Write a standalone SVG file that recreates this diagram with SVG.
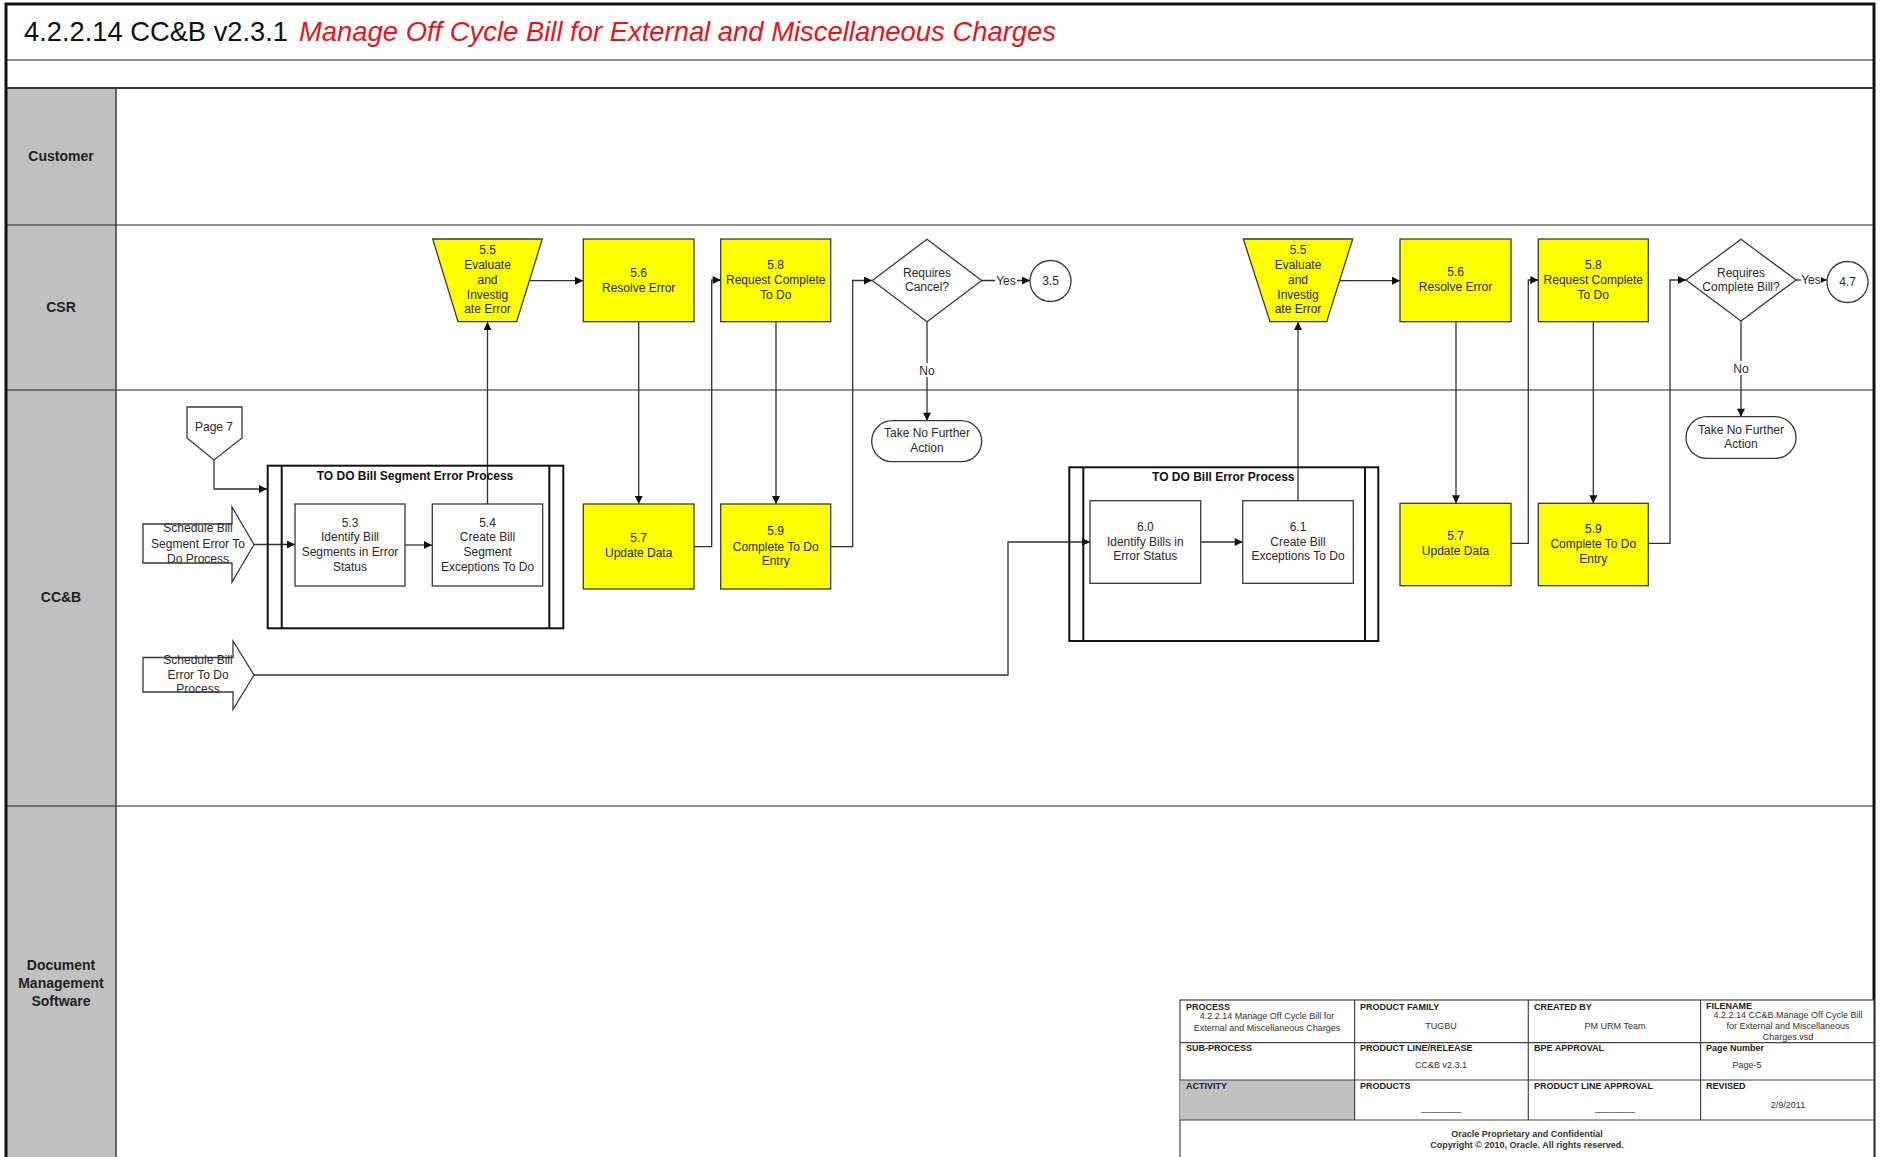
<svg xmlns="http://www.w3.org/2000/svg" width="1881" height="1157" viewBox="0 0 1881 1157">
<style>
text{font-family:"Liberation Sans",Arial,sans-serif;fill:#2a2a2a}
.t{font-size:12px;text-anchor:middle}
.tb{font-size:12px;font-weight:bold;text-anchor:middle;fill:#111}
.lane{font-size:14px;font-weight:bold;text-anchor:middle;fill:#222}
.y{fill:#ffff00;stroke:#3a3a3a;stroke-width:1.3}
.w{fill:#fff;stroke:#3a3a3a;stroke-width:1.3}
.pb{fill:none;stroke:#111;stroke-width:2}
.c{fill:none;stroke:#333;stroke-width:1.3}
.ca{fill:none;stroke:#333;stroke-width:1.3;marker-end:url(#ah)}
.g{stroke:#222;stroke-width:1.2}
.tl{font-size:9px;fill:#333}
.th{font-size:9px;font-weight:bold;fill:#222}
.tc{font-size:9px;fill:#333;text-anchor:middle}
</style>
<defs>
<marker id="ah" viewBox="0 0 10 10" refX="10" refY="5" markerUnits="userSpaceOnUse" markerWidth="9" markerHeight="8" orient="auto">
<path d="M0,0 L10,5 L0,10 z" fill="#111"/>
</marker>
</defs>
<rect x="0" y="0" width="1881" height="1157" fill="#fff"/>

<g id="frame">
<rect x="6" y="88" width="110" height="1075" fill="#c0c0c0"/>
<line x1="6" y1="60" x2="1874" y2="60" stroke="#222" stroke-width="1.2"/>
<line x1="6" y1="88" x2="1874" y2="88" stroke="#333" stroke-width="2"/>
<line x1="6" y1="225" x2="1874" y2="225" class="g"/>
<line x1="6" y1="390" x2="1874" y2="390" class="g"/>
<line x1="6" y1="806" x2="1874" y2="806" class="g"/>
<line x1="116" y1="88" x2="116" y2="1157" stroke="#444" stroke-width="1.6"/>
<rect x="6" y="4" width="1868" height="1170" fill="none" stroke="#111" stroke-width="3"/>
<text x="24" y="41" style="font-size:27.5px;fill:#111" textLength="264" lengthAdjust="spacingAndGlyphs">4.2.2.14 CC&amp;B v2.3.1</text>
<text x="299" y="41" style="font-size:27.5px;font-style:italic;fill:#e8141c" textLength="757" lengthAdjust="spacingAndGlyphs">Manage Off Cycle Bill for External and Miscellaneous Charges</text>
<text class="lane" x="61" y="161">Customer</text>
<text class="lane" x="61" y="312">CSR</text>
<text class="lane" x="61" y="602">CC&amp;B</text>
<text class="lane" x="61" y="970">Document</text>
<text class="lane" x="61" y="988">Management</text>
<text class="lane" x="61" y="1006">Software</text>
</g>

<g id="connectors">
<path class="ca" d="M214,460 V489 H267"/>
<path class="ca" d="M254,544.5 H295"/>
<path class="ca" d="M405,545 H432"/>
<path class="ca" d="M487.5,504 V322"/>
<path class="ca" d="M530,280.7 H583"/>
<path class="ca" d="M638.7,321.7 V504"/>
<path class="ca" d="M694,546.7 H711.7 V280 H720.7"/>
<path class="ca" d="M776,321.7 V504"/>
<path class="ca" d="M830.7,546.7 H852.7 V280.5 H872"/>
<path class="ca" d="M981.7,280.5 H1030"/>
<path class="ca" d="M927,321.7 V420.7"/>
<path class="ca" d="M254,675 H1008 V542 H1090"/>
<path class="ca" d="M1200.7,542 H1242.7"/>
<path class="ca" d="M1298,500.7 V322"/>
<path class="ca" d="M1340,280.7 H1400"/>
<path class="ca" d="M1456,321.7 V503.3"/>
<path class="ca" d="M1511,543.3 H1528.3 V280 H1538.3"/>
<path class="ca" d="M1593.3,321.7 V503.3"/>
<path class="ca" d="M1648.3,543.3 H1670 V280 H1686"/>
<path class="ca" d="M1796,280 H1826.7"/>
<path class="ca" d="M1741,321 V416.7"/>
<rect x="995" y="273" width="22" height="14" fill="#fff"/>
<text class="t" x="1006" y="284.5">Yes</text>
<rect x="917" y="363" width="20" height="14" fill="#fff"/>
<text class="t" x="927" y="374.5">No</text>
<rect x="1801" y="273" width="20" height="12" fill="#fff"/>
<text class="t" x="1811" y="284">Yes</text>
<rect x="1731" y="361" width="20" height="14" fill="#fff"/>
<text class="t" x="1741" y="372.5">No</text>
</g>

<g id="page7">
<path class="w" d="M187,407 H242 V438 L214,460 L187,438 Z"/>
<text class="t" x="214" y="431">Page 7</text>
</g>

<g id="sched1">
<path class="w" d="M143,524 H232 V507 L254,544.5 L232,582 V563 H143 Z"/>
<text class="t" x="198" y="532">Schedule Bill</text>
<text class="t" x="198" y="547.5">Segment Error To</text>
<text class="t" x="198" y="562.5">Do Process</text>
</g>

<g id="sched2">
<path class="w" d="M143,657.5 H233 V641 L254,675 L233,709.5 V692 H143 Z"/>
<text class="t" x="198" y="664">Schedule Bill</text>
<text class="t" x="198" y="679">Error To Do</text>
<text class="t" x="198" y="693">Process</text>
</g>

<g id="proc1">
<rect class="pb" x="267.7" y="465.7" width="295.6" height="162.6"/>
<line class="pb" x1="281.7" y1="465.7" x2="281.7" y2="628.3"/>
<line class="pb" x1="549.3" y1="465.7" x2="549.3" y2="628.3"/>
<text class="tb" x="415" y="479.5">TO DO Bill Segment Error Process</text>
</g>

<g id="n53">
<rect class="w" x="295" y="504" width="110" height="82"/>
<text class="t" x="350" y="526.5">5.3</text>
<text class="t" x="350" y="541">Identify Bill</text>
<text class="t" x="350" y="556">Segments in Error</text>
<text class="t" x="350" y="570.5">Status</text>
</g>

<g id="n54">
<rect class="w" x="432.3" y="504" width="110.4" height="82"/>
<text class="t" x="487.5" y="526.5">5.4</text>
<text class="t" x="487.5" y="541">Create Bill</text>
<text class="t" x="487.5" y="556">Segment</text>
<text class="t" x="487.5" y="570.5">Exceptions To Do</text>
</g>

<g id="n55a">
<polygon class="y" points="432.7,239 542.3,239 516.7,321.7 458,321.7"/>
<text class="t" x="487.5" y="254">5.5</text>
<text class="t" x="487.5" y="268.5">Evaluate</text>
<text class="t" x="487.5" y="283.5">and</text>
<text class="t" x="487.5" y="298.5">Investig</text>
<text class="t" x="487.5" y="313">ate Error</text>
</g>

<g id="n56a">
<rect class="y" x="583.3" y="239" width="110.7" height="82.7"/>
<text class="t" x="638.7" y="277">5.6</text>
<text class="t" x="638.7" y="292">Resolve Error</text>
</g>

<g id="n58a">
<rect class="y" x="720.7" y="239" width="110" height="82.7"/>
<text class="t" x="775.7" y="268.5">5.8</text>
<text class="t" x="775.7" y="284">Request Complete</text>
<text class="t" x="775.7" y="298.5">To Do</text>
</g>

<g id="n57a">
<rect class="y" x="583.3" y="504" width="110.7" height="85"/>
<text class="t" x="638.7" y="542">5.7</text>
<text class="t" x="638.7" y="557">Update Data</text>
</g>

<g id="n59a">
<rect class="y" x="720.7" y="504" width="110" height="85"/>
<text class="t" x="775.7" y="535">5.9</text>
<text class="t" x="775.7" y="550.5">Complete To Do</text>
<text class="t" x="775.7" y="565">Entry</text>
</g>

<g id="d1">
<polygon class="w" points="872.3,280.5 927,239.3 981.7,280.5 927,321.7"/>
<text class="t" x="927" y="276.5">Requires</text>
<text class="t" x="927" y="291">Cancel?</text>
</g>

<g id="c35">
<circle class="w" cx="1050.5" cy="281" r="20.5"/>
<text class="t" x="1050.5" y="285">3.5</text>
</g>

<g id="term1">
<rect class="w" x="871.7" y="420.7" width="110" height="41" rx="20.5"/>
<text class="t" x="927" y="436.5">Take No Further</text>
<text class="t" x="927" y="452">Action</text>
</g>

<g id="proc2">
<rect class="pb" x="1069.3" y="467.3" width="309" height="173.7"/>
<line class="pb" x1="1083.3" y1="467.3" x2="1083.3" y2="641"/>
<line class="pb" x1="1365" y1="467.3" x2="1365" y2="641"/>
<text class="tb" x="1223.3" y="481">TO DO Bill Error Process</text>
</g>

<g id="n60">
<rect class="w" x="1090" y="500.7" width="110.7" height="82.6"/>
<text class="t" x="1145.3" y="530.5">6.0</text>
<text class="t" x="1145.3" y="545.5">Identify Bills  in</text>
<text class="t" x="1145.3" y="560">Error Status</text>
</g>

<g id="n61">
<rect class="w" x="1242.7" y="500.7" width="110.6" height="82.6"/>
<text class="t" x="1298" y="530.5">6.1</text>
<text class="t" x="1298" y="545.5">Create Bill</text>
<text class="t" x="1298" y="560">Exceptions To Do</text>
</g>

<g id="n55b">
<polygon class="y" points="1243.3,239 1352.7,239 1326.7,321.7 1270,321.7"/>
<text class="t" x="1298" y="254">5.5</text>
<text class="t" x="1298" y="268.5">Evaluate</text>
<text class="t" x="1298" y="283.5">and</text>
<text class="t" x="1298" y="298.5">Investig</text>
<text class="t" x="1298" y="313">ate Error</text>
</g>

<g id="n56b">
<rect class="y" x="1400" y="239" width="111" height="82.7"/>
<text class="t" x="1455.5" y="276">5.6</text>
<text class="t" x="1455.5" y="291">Resolve Error</text>
</g>

<g id="n58b">
<rect class="y" x="1538.3" y="239" width="110" height="82.7"/>
<text class="t" x="1593.3" y="268.5">5.8</text>
<text class="t" x="1593.3" y="284">Request Complete</text>
<text class="t" x="1593.3" y="298.5">To Do</text>
</g>

<g id="n57b">
<rect class="y" x="1400" y="503.3" width="111" height="82.4"/>
<text class="t" x="1455.5" y="540">5.7</text>
<text class="t" x="1455.5" y="555">Update Data</text>
</g>

<g id="n59b">
<rect class="y" x="1538.3" y="503.3" width="110" height="82.4"/>
<text class="t" x="1593.3" y="532.5">5.9</text>
<text class="t" x="1593.3" y="547.5">Complete To Do</text>
<text class="t" x="1593.3" y="562.5">Entry</text>
</g>

<g id="d2">
<polygon class="w" points="1686,280 1741,239.3 1796,280 1741,321"/>
<text class="t" x="1741" y="276.5">Requires</text>
<text class="t" x="1741" y="291">Complete Bill?</text>
</g>

<g id="c47">
<circle class="w" cx="1847.5" cy="282" r="20.5"/>
<text class="t" x="1847.5" y="286">4.7</text>
</g>

<g id="term2">
<rect class="w" x="1686" y="416.7" width="110" height="41.6" rx="20.8"/>
<text class="t" x="1741" y="433.5">Take No Further</text>
<text class="t" x="1741" y="448">Action</text>
</g>

<g id="titleblock">
<rect x="1180" y="1000" width="694" height="170" fill="#fff" stroke="#444" stroke-width="1.2"/>
<rect x="1180" y="1080" width="174.6" height="40" fill="#c0c0c0"/>
<line x1="1180" y1="1042.7" x2="1874" y2="1042.7" stroke="#444" stroke-width="1.2"/>
<line x1="1180" y1="1080" x2="1874" y2="1080" stroke="#444" stroke-width="1.2"/>
<line x1="1180" y1="1120" x2="1874" y2="1120" stroke="#444" stroke-width="1.2"/>
<line x1="1354.6" y1="1000" x2="1354.6" y2="1120" stroke="#444" stroke-width="1.2"/>
<line x1="1528.3" y1="1000" x2="1528.3" y2="1120" stroke="#444" stroke-width="1.2"/>
<line x1="1700.6" y1="1000" x2="1700.6" y2="1120" stroke="#444" stroke-width="1.2"/>
<text class="th" x="1186" y="1010">PROCESS</text>
<text class="tc" x="1267" y="1019">4.2.2.14 Manage Off Cycle Bill for</text>
<text class="tc" x="1267" y="1031">External and Miscellaneous Charges</text>
<text class="th" x="1360" y="1010">PRODUCT FAMILY</text>
<text class="tc" x="1441" y="1029">TUGBU</text>
<text class="th" x="1534" y="1010">CREATED BY</text>
<text class="tc" x="1615" y="1029">PM URM Team</text>
<text class="th" x="1706" y="1009">FILENAME</text>
<text class="tc" x="1788" y="1018">4.2.2.14 CC&amp;B.Manage Off Cycle Bill</text>
<text class="tc" x="1788" y="1029">for External and Miscellaneous</text>
<text class="tc" x="1788" y="1040">Charges.vsd</text>
<text class="th" x="1186" y="1051">SUB-PROCESS</text>
<text class="tc" x="1441" y="1068">CC&amp;B v2.3.1</text>
<text class="th" x="1360" y="1051">PRODUCT LINE/RELEASE</text>
<text class="th" x="1534" y="1051">BPE APPROVAL</text>
<text class="th" x="1706" y="1051">Page Number</text>
<text class="tc" x="1747" y="1068">Page-5</text>
<text class="th" x="1186" y="1089">ACTIVITY</text>
<text class="th" x="1360" y="1089">PRODUCTS</text>
<text class="tc" x="1441" y="1111">________</text>
<text class="th" x="1534" y="1089">PRODUCT LINE APPROVAL</text>
<text class="tc" x="1615" y="1111">________</text>
<text class="th" x="1706" y="1089">REVISED</text>
<text class="tc" x="1788" y="1108">2/9/2011</text>
<text class="tc" x="1527" y="1137" style="font-weight:bold">Oracle Proprietary and Confidential</text>
<text class="tc" x="1527" y="1148" style="font-weight:bold">Copyright © 2010, Oracle. All rights reserved.</text>
</g>
</svg>
